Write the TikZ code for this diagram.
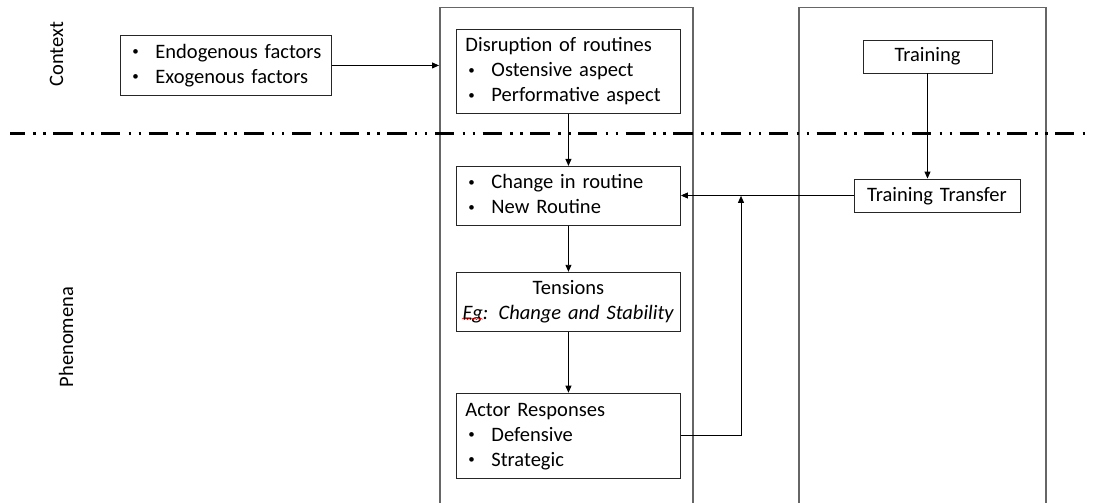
\documentclass[tikz,border=0pt]{standalone}
\usepackage{fontspec}
\setmainfont{Carlito}
\usetikzlibrary{arrows.meta, positioning, decorations.pathmorphing}

\newcommand{\bul}{\makebox[26pt][l]{\hspace{3pt}\raisebox{2.5pt}{\fontsize{13pt}{13pt}\selectfont\textbullet}}}

\begin{document}
\begin{tikzpicture}[
            x = 1pt, y = -1pt, % pixel grid of the reference
            > = {Triangle[length=7pt, width=6pt]}, % arrow head style
            font = \fontsize{20.5pt}{25pt}\selectfont,
            line width = 0.9pt,
        ]
\tikzstyle{box}=[
            shape = rectangle,
            draw = black!85,
            inner xsep = 9pt,
            inner ysep = 0pt,
            text width = 206pt,
            align = left,
            execute at begin node = {\rule{0pt}{18pt}},
            execute at end node = {\rule[-7pt]{0pt}{7pt}}
        ]
\tikzstyle{frame}=[
            shape = rectangle,
            draw = black!60,
            line width = 1.5pt,
            anchor = north west
        ]
\tikzstyle{sidelabel}=[
            rotate = 90,
            anchor = base
        ]
\useasboundingbox (0,0) rectangle (1096,503);
% columns
\node[frame, minimum width=253pt, minimum height=520pt](midframe) at (439,7) {};
\node[frame, minimum width=247pt, minimum height=520pt](rightframe) at (798,7) {};
% context / phenomena divider
\draw[line width=3pt, dash pattern=on 19.4pt off 8.3pt on 2.5pt off 7.5pt on 2.5pt off 7.5pt,
      dash phase=4.4pt] (10,133) -- (1090,133);
\node[sidelabel](context) at (63,54) {Context};
\node[sidelabel](phenomena) at (73,337) {Phenomena};
% left column
\node[box, anchor=north west, text width=193pt, minimum height=60pt](factors) at (120,35)
      {\bul Endogenous factors\\ \bul Exogenous factors};
% middle column
\node[box, anchor=north west, minimum height=84pt](disruption) at (456,29)
      {Disruption of routines\\ \bul Ostensive aspect\\ \bul Performative aspect};
\node[box, below=52pt of disruption, minimum height=59pt](change)
      {\bul Change in routine\\ \bul New Routine};
\node[box, below=46pt of change, align=center, inner xsep=0pt, text width=224pt, minimum height=59pt](tensions)
      {Tensions\\ \textit{Eg: Change and Stability}};
\node[box, below=61pt of tensions, minimum height=85pt](actors)
      {Actor Responses\\ \bul Defensive\\ \bul Strategic};
% right column
\node[box, align=center, text width=111pt, minimum height=33pt](training) at (927.5,56.5) {Training};
\node[box, align=center, text width=148pt, minimum height=33pt](transfer) at (937,195.5) {Training Transfer};
\coordinate (loop) at (741,0);
% connectors
\draw[->] (factors.east) -- (factors.east -| midframe.west);
\draw[->] (disruption) -- (change);
\draw[->] (change) -- (tensions);
\draw[->] (tensions) -- (actors);
\draw[->] (training.south) -- (training.south |- transfer.north);
\draw[->] (transfer.west) -- (transfer.west -| change.east);
\draw[->] (actors.east) -| (loop |- change.east);
% spell-check squiggle under Eg
\draw[red, line width=0.5pt, decorate, decoration={snake, amplitude=0.7pt, segment length=3pt}]
      (462,319) -- (483,319);
\end{tikzpicture}
\end{document}
